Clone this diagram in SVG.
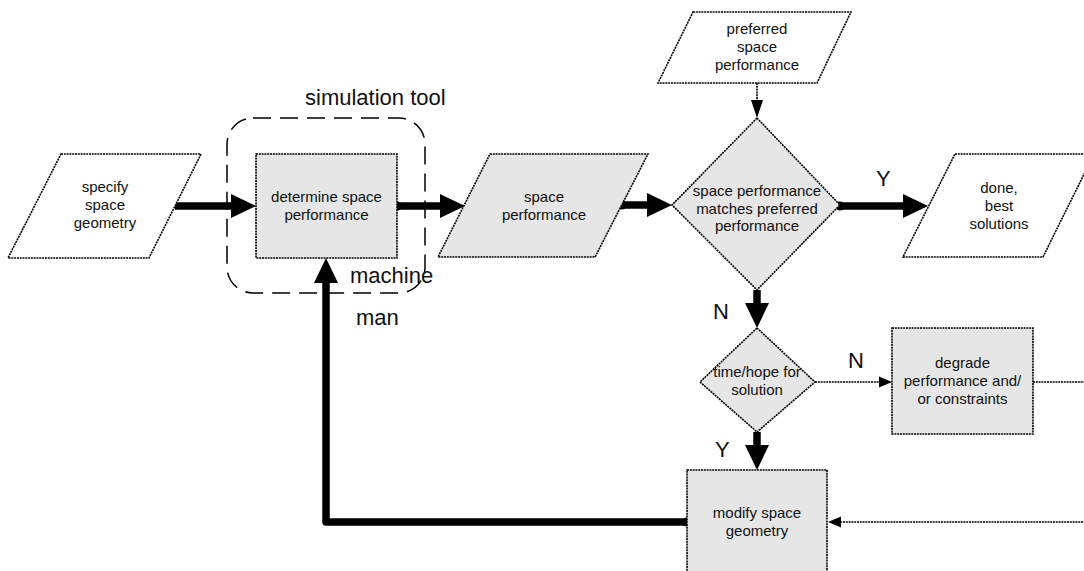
<svg xmlns="http://www.w3.org/2000/svg" width="1084" height="571" viewBox="0 0 1084 571">
  <style>
    .shape { stroke: #000; stroke-width: 1.6; stroke-dasharray: 2 0.8; }
    .grey { fill: #e6e6e6; }
    .white { fill: #fff; }
    .txt { font-family: "Liberation Sans", Arial, sans-serif; font-size: 15px; fill: #111; text-anchor: middle; }
    .big { font-family: "Liberation Sans", Arial, sans-serif; font-size: 22px; fill: #111; }
    .thick { fill: none; stroke: #000; stroke-width: 7.5; stroke-linejoin: round; }
    .thin { fill: none; stroke: #000; stroke-width: 1.6; stroke-dasharray: 2 0.8; }
    .boundary { fill: none; stroke: #000; stroke-width: 1.5; stroke-dasharray: 18 9; }
  </style>
  <defs>
    <marker id="bigHead" markerUnits="userSpaceOnUse" markerWidth="25" markerHeight="24" refX="0" refY="12" orient="auto" overflow="visible">
      <path d="M0,0 L25,12 L0,24 Z" fill="#000"/>
    </marker>
    <marker id="smallHead" markerUnits="userSpaceOnUse" markerWidth="13" markerHeight="11" refX="0" refY="5.5" orient="auto" overflow="visible">
      <path d="M0,0 L13,5.5 L0,11 Z" fill="#000"/>
    </marker>
    <marker id="tallHead" markerUnits="userSpaceOnUse" markerWidth="18" markerHeight="12" refX="0" refY="6" orient="auto" overflow="visible">
      <path d="M0,0 L18,6 L0,12 Z" fill="#000"/>
    </marker>
    <marker id="dot" markerUnits="userSpaceOnUse" markerWidth="10" markerHeight="10" refX="5" refY="5" overflow="visible">
      <circle cx="5" cy="5" r="4.5" fill="#000"/>
    </marker>
  </defs>

  <!-- tool boundary and its labels -->
  <g id="simulation-tool">
    <rect class="boundary" x="227" y="118" width="198" height="175" rx="26" ry="26"/>
    <text class="big" x="305" y="105" font-size="23.5">simulation tool</text>
    <text class="big" x="350" y="283">machine</text>
    <text class="big" x="356" y="325">man</text>
  </g>

  <!-- connectors -->
  <g id="connectors">
    <path class="thick" d="M175,206 L231,206" marker-end="url(#bigHead)"/>
    <path class="thick" d="M397,206 L440,206" marker-start="url(#dot)" marker-end="url(#bigHead)"/>
    <path class="thick" d="M622,205 L647,205" marker-start="url(#dot)" marker-end="url(#bigHead)"/>
    <path class="thick" d="M840,206 L903,206" marker-start="url(#dot)" marker-end="url(#bigHead)"/>
    <path class="thick" d="M757,290 L757,303" marker-end="url(#bigHead)"/>
    <path class="thick" d="M757,432 L757,445" marker-end="url(#bigHead)"/>
    <path class="thick" d="M687,522 L326,522 L326,283" marker-start="url(#dot)" marker-end="url(#bigHead)"/>
    <path class="thin" d="M757,83 L757,100" marker-end="url(#tallHead)"/>
    <path class="thin" d="M815,382 L879,382" marker-end="url(#smallHead)"/>
    <path class="thin" d="M1033,382 L1100,382 L1100,522 L841,522" marker-end="url(#smallHead)"/>
    <text class="big" x="876" y="186">Y</text>
    <text class="big" x="713" y="319">N</text>
    <text class="big" x="848" y="368">N</text>
    <text class="big" x="715" y="457">Y</text>
  </g>

  <g id="specify-geometry">
    <polygon class="shape white" points="61,154 201,154 149,258 8,258"/>
    <text class="txt" x="105" y="192">specify</text>
    <text class="txt" x="105" y="210">space</text>
    <text class="txt" x="105" y="228">geometry</text>
  </g>

  <g id="determine-performance">
    <rect class="shape grey" x="256" y="154" width="141" height="104"/>
    <text class="txt" x="326.5" y="202">determine space</text>
    <text class="txt" x="326.5" y="220">performance</text>
  </g>

  <g id="space-performance">
    <polygon class="shape grey" points="490,154 648,154 595,257 438,257"/>
    <text class="txt" x="544" y="202">space</text>
    <text class="txt" x="544" y="220">performance</text>
  </g>

  <g id="preferred-performance">
    <polygon class="shape white" points="693,12 851,12 817,83 658,83"/>
    <text class="txt" x="757" y="34">preferred</text>
    <text class="txt" x="757" y="52">space</text>
    <text class="txt" x="757" y="70">performance</text>
  </g>

  <g id="performance-match">
    <polygon class="shape grey" points="757,118 840,205 757,290 672,205"/>
    <text class="txt" x="757" y="196">space performance</text>
    <text class="txt" x="757" y="213.5">matches preferred</text>
    <text class="txt" x="757" y="231">performance</text>
  </g>

  <g id="best-solutions">
    <polygon class="shape white" points="955,154 1094,154 1043,257 903,257"/>
    <text class="txt" x="999" y="193">done,</text>
    <text class="txt" x="999" y="211">best</text>
    <text class="txt" x="999" y="229">solutions</text>
  </g>

  <g id="time-hope">
    <polygon class="shape grey" points="757,328 815,382 757,432 700,382"/>
    <text class="txt" x="757" y="377">time/hope for</text>
    <text class="txt" x="757" y="395">solution</text>
  </g>

  <g id="degrade">
    <rect class="shape grey" x="892" y="328" width="141" height="106"/>
    <text class="txt" x="962.5" y="368">degrade</text>
    <text class="txt" x="962.5" y="386">performance and/</text>
    <text class="txt" x="962.5" y="404">or constraints</text>
  </g>

  <g id="modify-geometry">
    <rect class="shape grey" x="687" y="470" width="140" height="105"/>
    <text class="txt" x="757" y="518">modify space</text>
    <text class="txt" x="757" y="536">geometry</text>
  </g>
</svg>
